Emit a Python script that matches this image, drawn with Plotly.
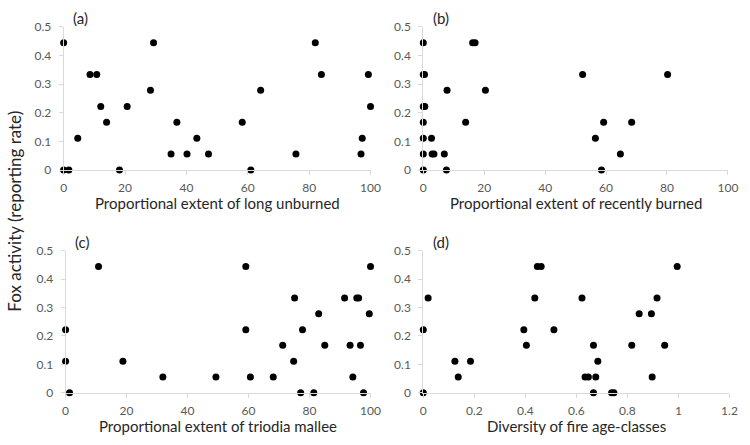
import plotly.graph_objects as go

# Panel (a): proportional extent of long unburned
xa = [0, 0, 1.7, 4.6, 8.6, 10.8, 12.1, 14.0, 18.2, 20.7, 28.3, 29.3, 35.0, 36.9, 40.2, 43.4,
      47.2, 58.2, 61.0, 64.2, 75.7, 82.0, 84.0, 96.9, 97.3, 99.3, 100]
ya = [0.444, 0, 0, 0.111, 0.333, 0.333, 0.222, 0.167, 0, 0.222, 0.278, 0.444, 0.056, 0.167,
      0.056, 0.111, 0.056, 0.167, 0, 0.278, 0.056, 0.444, 0.333, 0.056, 0.111, 0.333, 0.222]

# Panel (b): proportional extent of recently burned
xb = [0, 0, 0.4, 0, 0.5, 0, 0, 0, 0, 2.7, 2.9, 3.5, 6.9, 7.6, 7.8, 13.9, 16.2, 17.0, 20.4,
      52.3, 56.5, 58.5, 59.2, 64.7, 68.4, 80.2]
yb = [0.444, 0.333, 0.333, 0.222, 0.222, 0.167, 0.111, 0.056, 0, 0.111, 0.056, 0.056, 0.056,
      0, 0.278, 0.167, 0.444, 0.444, 0.278, 0.333, 0.111, 0, 0.167, 0.056, 0.167, 0.333]

# Panel (c): proportional extent of triodia mallee
xc = [0, 0, 1.3, 10.8, 18.8, 31.9, 49.3, 59.1, 59.1, 60.6, 68.1, 71.2, 74.8, 75.1, 77.1, 77.7,
      81.4, 83.0, 85.0, 91.5, 93.3, 94.2, 95.5, 96.1, 96.7, 97.7, 99.6, 100]
yc = [0.222, 0.111, 0, 0.444, 0.111, 0.056, 0.056, 0.444, 0.222, 0.056, 0.056, 0.167, 0.111,
      0.333, 0, 0.222, 0, 0.278, 0.167, 0.333, 0.167, 0.056, 0.333, 0.333, 0.167, 0, 0.278, 0.444]

# Panel (d): diversity of fire age-classes
xd = [0, 0, 0.019, 0.124, 0.137, 0.185, 0.394, 0.404, 0.437, 0.447, 0.462, 0.512, 0.622, 0.634,
      0.647, 0.667, 0.667, 0.676, 0.684, 0.738, 0.747, 0.817, 0.846, 0.894, 0.897, 0.916, 0.946, 0.995]
yd = [0, 0.222, 0.333, 0.111, 0.056, 0.111, 0.222, 0.167, 0.333, 0.444, 0.444, 0.222, 0.333,
      0.056, 0.056, 0.167, 0, 0.056, 0.111, 0, 0, 0.167, 0.278, 0.278, 0.056, 0.333, 0.167, 0.444]

panel_labels = ["(a)", "(b)", "(c)", "(d)"]
x_titles = ["Proportional extent of long unburned", "Proportional extent of recently burned",
            "Proportional extent of triodia mallee", "Diversity of fire age-classes"]
y_title = "Fox activity (reporting rate)"

W, H = 750, 445
FONT = "Lato, 'Open Sans', sans-serif"
AXC = "#d9d9d9"
TICKC = "#595959"

# plot-area pixel boxes: (left, right, top, bottom)
boxes = [(61.7, 374.0, 19.3, 167.7),
         (427.7, 737.7, 19.3, 167.7),
         (63.7, 374.0, 251.0, 398.3),
         (427.7, 739.3, 251.0, 398.3)]
xranges = [[0, 100], [0, 100], [0, 100], [0, 1.2]]
xdticks = [20, 20, 20, 0.2]

fig = go.Figure()
data = [(xa, ya), (xb, yb), (xc, yc), (xd, yd)]
layout = {}
annotations = []
for i, ((xs, ys), (l, r, t, b)) in enumerate(zip(data, boxes)):
    n = "" if i == 0 else str(i + 1)
    fig.add_trace(go.Scatter(x=xs, y=ys, mode="markers", xaxis="x" + n, yaxis="y" + n,
                             marker=dict(size=7, color="black"), cliponaxis=False,
                             showlegend=False, hoverinfo="x+y"))
    common = dict(showline=True, linecolor=AXC, linewidth=1, ticks="outside", ticklen=4,
                  tickcolor=AXC, tickwidth=1, showgrid=False, zeroline=False,
                  tickfont=dict(family=FONT, size=12, color=TICKC), fixedrange=True)
    layout["xaxis" + n] = dict(domain=[l / W, r / W], anchor="y" + n, range=xranges[i],
                               dtick=xdticks[i], tick0=0, ticklabelstandoff=3, **common)
    layout["yaxis" + n] = dict(domain=[1 - b / H, 1 - t / H], anchor="x" + n, range=[0, 0.5],
                               dtick=0.1, tick0=0, ticklabelstandoff=5, **common)
    # x-axis title
    annotations.append(dict(text=x_titles[i], xref="paper", yref="paper",
                            x=(l + r) / 2 / W, y=1 - (b + 34) / H, xanchor="center",
                            yanchor="middle", showarrow=False,
                            font=dict(family=FONT, size=15, color="#262626")))
    # panel label
    annotations.append(dict(text=panel_labels[i], xref="paper", yref="paper",
                            x=(l + 8) / W, y=1 - (t - 9) / H, xanchor="left",
                            yanchor="middle", showarrow=False,
                            font=dict(family=FONT, size=15, color="#262626")))

annotations.append(dict(text=y_title, xref="paper", yref="paper", x=12 / W, y=1 - 210 / H,
                        xanchor="center", yanchor="middle", textangle=-90, showarrow=False,
                        font=dict(family=FONT, size=17, color="#262626")))

fig.update_layout(width=W, height=H, margin=dict(l=0, r=0, t=0, b=0),
                  paper_bgcolor="white", plot_bgcolor="white",
                  annotations=annotations, **layout)

# place the graph at the page's top-left corner (no default body margin)
post = ("document.body.style.margin='0';document.body.style.padding='0';"
        "var gd=document.getElementById('{plot_id}');"
        "gd.style.position='absolute';gd.style.left='0px';gd.style.top='0px';")
fig.write_html("out.html", post_script=post, config={"displayModeBar": False})
